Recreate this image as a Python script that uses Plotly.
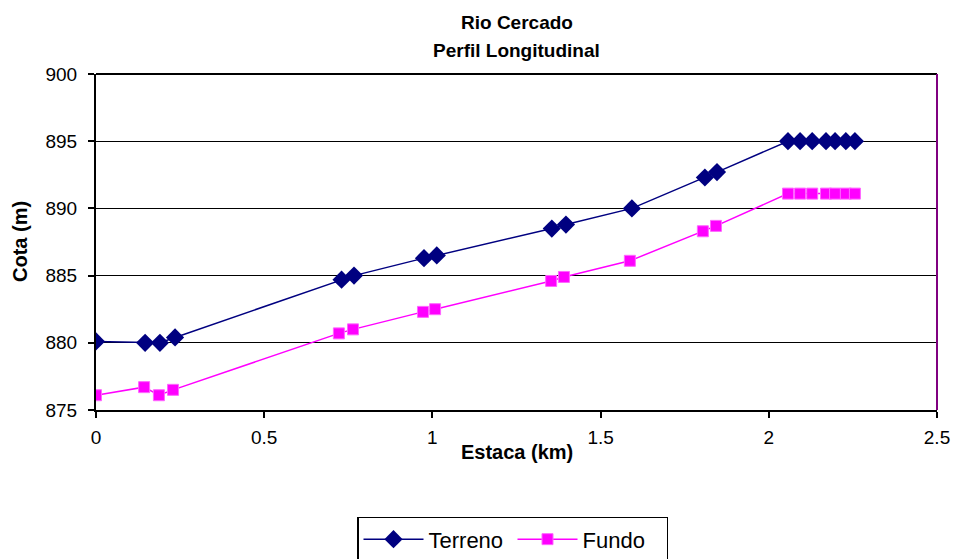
import plotly.graph_objects as go

estaca_terreno = [0.0, 0.146, 0.19, 0.235, 0.73, 0.767, 0.975, 1.013, 1.355, 1.397, 1.593, 1.81, 1.846,
                  2.057, 2.093, 2.129, 2.170, 2.197, 2.229, 2.256]
cota_terreno = [880.1, 880.0, 880.0, 880.4, 884.7, 885.0, 886.3, 886.5, 888.5, 888.8, 890.0, 892.3, 892.7,
                895.0, 895.0, 895.0, 895.0, 895.0, 895.0, 895.0]

estaca_fundo = [0.0, 0.143, 0.187, 0.229, 0.722, 0.764, 0.972, 1.008, 1.353, 1.391, 1.587, 1.804, 1.843,
                2.057, 2.093, 2.129, 2.170, 2.197, 2.229, 2.256]
cota_fundo = [876.1, 876.7, 876.1, 876.5, 880.7, 881.0, 882.3, 882.5, 884.6, 884.9, 886.1, 888.3, 888.7,
              891.1, 891.1, 891.1, 891.1, 891.1, 891.1, 891.1]

x_ticks = [0, 0.5, 1, 1.5, 2, 2.5]
x_tick_labels = ["0", "0.5", "1", "1.5", "2", "2.5"]
y_ticks = [875, 880, 885, 890, 895, 900]
title_lines = ["Rio Cercado", "Perfil Longitudinal"]
x_title = "Estaca (km)"
y_title = "Cota (m)"

FONT = "Liberation Sans, Arial, sans-serif"

fig = go.Figure()
fig.add_trace(go.Scatter(
    x=estaca_terreno, y=cota_terreno, name="Terreno", mode="lines+markers",
    line=dict(color="#000080", width=1.5),
    marker=dict(symbol="diamond", size=14, color="#000080", line=dict(width=0)),
))
fig.add_trace(go.Scatter(
    x=estaca_fundo, y=cota_fundo, name="Fundo", mode="lines+markers",
    line=dict(color="#FF00FF", width=1.5),
    marker=dict(symbol="square", size=11, color="#FF00FF", line=dict(width=1, color="#FF66FF")),
))

fig.update_layout(
    width=958, height=559,
    margin=dict(l=96, r=21, t=74, b=149, autoexpand=False),
    paper_bgcolor="white", plot_bgcolor="white",
    font=dict(family=FONT, size=18, color="black"),
    xaxis=dict(range=[0, 2.5], tickvals=x_ticks, ticktext=x_tick_labels,
               showgrid=False, zeroline=False, showline=True, linecolor="black", linewidth=2,
               ticks="outside", ticklen=6, tickcolor="black", tickwidth=1.5,
               tickfont=dict(size=19), ticklabelstandoff=3),
    yaxis=dict(range=[875, 900], tickvals=y_ticks,
               showgrid=True, gridcolor="black", gridwidth=1, zeroline=False,
               showline=True, linecolor="black", linewidth=2,
               ticks="outside", ticklen=6, tickcolor="black", tickwidth=1.5,
               tickfont=dict(size=19), ticklabelstandoff=7),
    legend=dict(orientation="h", x=(357 - 96) / 841, xanchor="left", y=-0.318, yanchor="top",
                bordercolor="black", borderwidth=1.5, bgcolor="white",
                itemwidth=60, entrywidth=79, entrywidthmode="pixels",
                font=dict(family=FONT, size=22, color="black")),
    showlegend=True,
)
fig.add_annotation(text="<b>" + title_lines[0] + "</b>", xref="paper", yref="paper",
                   x=0.5, y=1 + 52 / 336, xanchor="center", yanchor="middle", showarrow=False,
                   font=dict(family=FONT, size=19, color="black"))
fig.add_annotation(text="<b>" + title_lines[1] + "</b>", xref="paper", yref="paper",
                   x=0.5, y=1 + 24 / 336, xanchor="center", yanchor="middle", showarrow=False,
                   font=dict(family=FONT, size=19, color="black"))
fig.add_annotation(text="<b>" + x_title + "</b>", xref="paper", yref="paper",
                   x=0.5, y=-42 / 336, xanchor="center", yanchor="middle", showarrow=False,
                   font=dict(family=FONT, size=20, color="black"))
fig.add_annotation(text="<b>" + y_title + "</b>", xref="paper", yref="paper",
                   x=-76 / 841, y=0.5, xanchor="center", yanchor="middle", showarrow=False,
                   textangle=-90, font=dict(family=FONT, size=20, color="black"))
fig.add_shape(type="line", xref="paper", yref="paper", x0=0, x1=1, y0=1, y1=1,
              line=dict(color="black", width=2))
fig.add_shape(type="line", xref="paper", yref="paper", x0=1, x1=1, y0=0, y1=1,
              line=dict(color="#800080", width=2))

fig.write_html("out.html")
